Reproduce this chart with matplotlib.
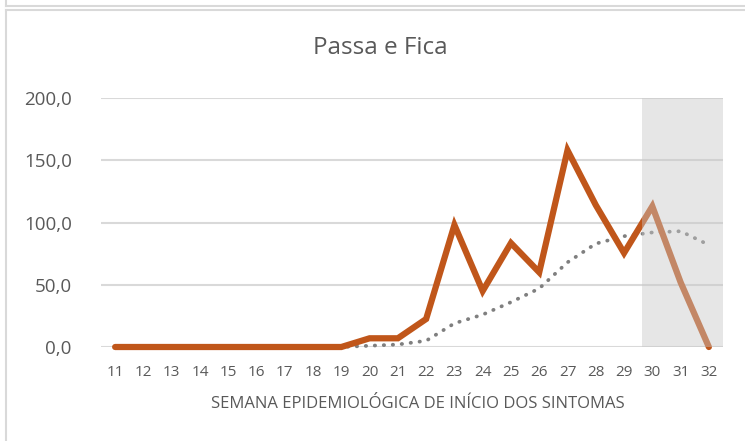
import matplotlib
matplotlib.use("Agg")
import matplotlib.pyplot as plt
from matplotlib.lines import Line2D
import numpy as np

plt.rcParams['font.family'] = ['Open Sans', 'DejaVu Sans']

weeks = list(range(11, 33))
week_labels = [str(w) for w in weeks]
cases = [0, 0, 0, 0, 0, 0, 0, 0, 0, 7, 7, 22.5, 98, 45, 83.5, 60, 158, 114, 75.5, 113, 52, 0]
trend_weeks = list(range(17, 33))
trend = [0, 0, 0, 1, 2, 5, 19, 26, 36, 47, 68, 83, 89, 92, 93, 82]
yticks = [0, 50, 100, 150, 200]
ytick_labels = ['0,0', '50,0', '100,0', '150,0', '200,0']
title = 'Passa e Fica'
xlabel = 'SEMANA EPIDEMIOLÓGICA DE INÍCIO DOS SINTOMAS'
shade_start, shade_end = 29.63, 32.5

W, H = 745, 441
fig = plt.figure(figsize=(W / 100, H / 100), dpi=100)
ax = fig.add_axes([101 / W, 1 - 347 / H, (723 - 101) / W, (347 - 98) / H])

text_color = '#595959'
grid_color = '#D9D9D9'

ax.set_xlim(10.5, 32.5)
ax.set_ylim(0, 200)
ax.set_yticks(yticks)
ax.set_yticklabels(ytick_labels, fontsize=13.5, color=text_color)
ax.set_xticks(weeks)
ax.set_xticklabels(week_labels, fontsize=11, color=text_color)
ax.tick_params(length=0)
ax.tick_params(axis='y', pad=21)
ax.tick_params(axis='x', pad=13)
for s in ax.spines.values():
    s.set_visible(False)
ax.grid(axis='y', color=grid_color, linewidth=1.5, zorder=0)
ax.set_axisbelow(True)

ax.plot(weeks, cases, color='#C0561A', linewidth=4.5, solid_joinstyle='miter',
        solid_capstyle='round', zorder=3, clip_on=False)
ax.plot(trend_weeks, trend, color='#7F7F7F', linewidth=2.7, linestyle=(0, (0.1, 2.3)),
        dash_capstyle='round', zorder=2, clip_on=False)
ax.axvspan(shade_start, shade_end, color=(200 / 255, 200 / 255, 200 / 255), alpha=0.44,
           zorder=4, linewidth=0)

fig.text(380 / W, 1 - 48 / H, title, fontsize=17.5, color=text_color, ha='center', va='center')
fig.text(418 / W, 1 - 404 / H, xlabel, fontsize=12, color=text_color, ha='center', va='center')

frame_c = '#D9D9D9'
fig.add_artist(Line2D([6.5 / W, 6.5 / W], [1, 1 - 5.5 / H], color=frame_c, lw=1.5, transform=fig.transFigure))
fig.add_artist(Line2D([6.5 / W, 1], [1 - 5.5 / H, 1 - 5.5 / H], color=frame_c, lw=1.5, transform=fig.transFigure))
fig.add_artist(Line2D([6.5 / W, 1], [1 - 9.5 / H, 1 - 9.5 / H], color=frame_c, lw=1.5, transform=fig.transFigure))
fig.add_artist(Line2D([6.5 / W, 6.5 / W], [1 - 9.5 / H, 0], color=frame_c, lw=1.5, transform=fig.transFigure))

fig.savefig('out.png', dpi=100, facecolor='white')
